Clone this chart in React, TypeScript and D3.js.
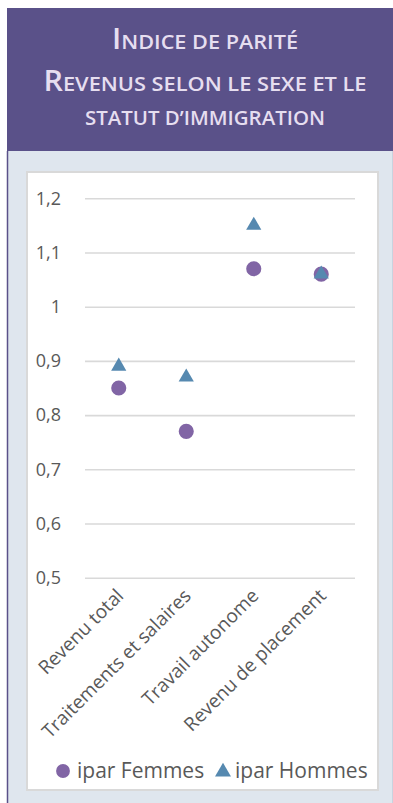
import * as d3 from "d3";
import React, { useEffect, useRef } from "react";

const categories = ["Revenu total", "Traitements et salaires", "Travail autonome", "Revenu de placement"];
const femmes = [0.85, 0.77, 1.07, 1.06];
const hommes = [0.89, 0.87, 1.15, 1.06];
const yTicks = [0.5, 0.6, 0.7, 0.8, 0.9, 1.0, 1.1, 1.2];
const titleLines = ["Indice de parité", "Revenus selon le sexe et le", "statut d’immigration"];
const seriesNames = ["ipar Femmes", "ipar Hommes"];

const W = 393;
const H = 803;
const PURPLE = "#5a5189";
const C_FEM = "#8165a5";
const C_HOM = "#5689b0";
const TXT = "#595959";

// Découper une ligne en morceaux petites capitales / grandes capitales
function smallCapsRuns(s: string) {
  const runs: { big: boolean; t: string }[] = [];
  for (const ch of s) {
    const big = ch !== ch.toLowerCase();
    const last = runs[runs.length - 1];
    if (last && last.big === big) last.t += ch.toUpperCase();
    else runs.push({ big, t: ch.toUpperCase() });
  }
  return runs;
}

export default function App() {
  const ref = useRef<SVGSVGElement>(null);

  useEffect(() => {
    const svg = d3.select(ref.current);
    svg.selectAll("*").remove();

    // Fond et cadres
    svg.append("rect").attr("width", W).attr("height", H).attr("fill", "#fff");
    svg.append("rect").attr("x", 7).attr("y", 151).attr("width", W - 7).attr("height", H - 151).attr("fill", "#dfe6ee");
    svg.append("line").attr("x1", 7.5).attr("x2", 7.5).attr("y1", 151).attr("y2", H).attr("stroke", PURPLE).attr("stroke-width", 1.5);
    svg.append("line").attr("x1", 392.5).attr("x2", 392.5).attr("y1", 151).attr("y2", H).attr("stroke", "#c9d3df");
    svg.append("rect").attr("x", 7).attr("y", 8).attr("width", W - 7).attr("height", 143).attr("fill", PURPLE);

    // Titre
    const title = svg
      .append("g")
      .attr("font-family", "'Open Sans', sans-serif")
      .attr("font-weight", 600)
      .attr("fill", "#e6def0")
      .attr("text-anchor", "middle");
    const titleY = [49, 91, 125];
    const titleW = [186, 323, 240];
    titleLines.forEach((t, i) => {
      const txt = title
        .append("text")
        .attr("x", 205)
        .attr("y", titleY[i])
        .attr("textLength", titleW[i])
        .attr("lengthAdjust", "spacingAndGlyphs");
      smallCapsRuns(t).forEach((r) => {
        txt.append("tspan").attr("font-size", r.big ? 28 : 20).text(r.t);
      });
    });

    // Panneau blanc
    svg.append("rect").attr("x", 27).attr("y", 172).attr("width", 351).attr("height", 618).attr("fill", "#fff").attr("stroke", "#d9d9d9").attr("stroke-width", 2);

    const xScale = d3.scaleBand().domain(categories).range([85, 355]);
    const yScale = d3.scaleLinear().domain([0.5, 1.2]).range([577.7, 198.3]);
    const cx = (i: number) => (xScale(categories[i]) as number) + xScale.bandwidth() / 2;

    // Axe y avec grille
    const fmt = (d: number) => d3.format(".1~f")(d).replace(".", ",");
    svg
      .append("g")
      .attr("transform", "translate(85,0)")
      .call(d3.axisLeft(yScale).tickValues(yTicks).tickFormat(fmt as any).tickSize(0).tickPadding(24))
      .call((g) => g.select(".domain").remove())
      .call((g) =>
        g.selectAll(".tick line").attr("x2", 270).attr("stroke", "#d9d9d9").attr("stroke-width", 1.6)
      )
      .call((g) =>
        g.selectAll(".tick text").attr("fill", TXT).attr("font-size", 18).attr("font-family", "'Open Sans', sans-serif")
      );

    // Etiquettes des catégories
    svg
      .append("g")
      .selectAll("text")
      .data(categories)
      .join("text")
      .attr("transform", (_, i) => `translate(${cx(i) + 6},${597}) rotate(-45)`)
      .attr("text-anchor", "end")
      .attr("font-family", "'Open Sans', sans-serif")
      .attr("font-size", 19)
      .attr("fill", TXT)
      .text((d) => d);

    // Points
    const circle = d3.symbol(d3.symbolCircle, 180);
    const tri = d3.symbol(d3.symbolTriangle, 100);
    svg
      .append("g")
      .selectAll("path")
      .data(femmes)
      .join("path")
      .attr("d", circle)
      .attr("transform", (d, i) => `translate(${cx(i)},${yScale(d)})`)
      .attr("fill", C_FEM);
    svg
      .append("g")
      .selectAll("path")
      .data(hommes)
      .join("path")
      .attr("d", tri)
      .attr("transform", (d, i) => `translate(${cx(i)},${yScale(d)})`)
      .attr("fill", C_HOM);

    // Légende
    const leg = svg.append("g").attr("font-family", "'Open Sans', sans-serif").attr("font-size", 21).attr("fill", TXT);
    leg.append("path").attr("d", d3.symbol(d3.symbolCircle, 150)).attr("transform", "translate(63,771)").attr("fill", C_FEM);
    leg.append("text").attr("x", 77).attr("y", 778).text(seriesNames[0]);
    leg.append("path").attr("d", d3.symbol(d3.symbolTriangle, 110)).attr("transform", "translate(223,772)").attr("fill", C_HOM);
    leg.append("text").attr("x", 235).attr("y", 778).text(seriesNames[1]);
  }, []);

  return (
    <svg
      ref={ref}
      width={W}
      height={H}
      style={{ position: "absolute", left: 0, top: 0, display: "block" }}
    ></svg>
  );
}
